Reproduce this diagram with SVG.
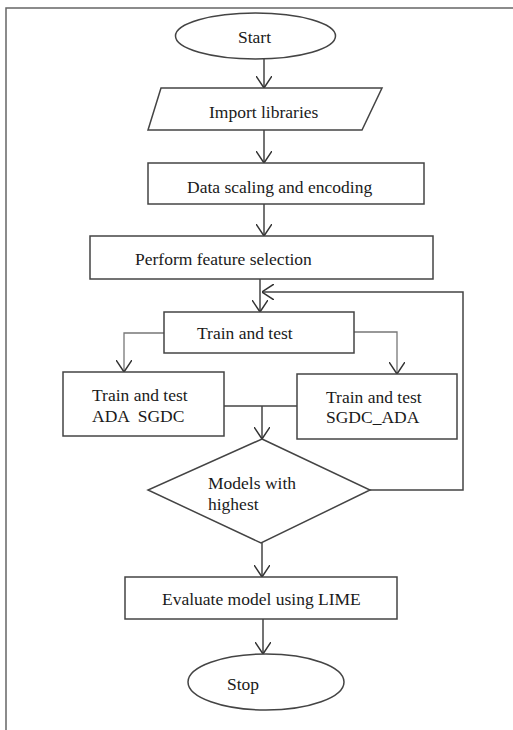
<svg xmlns="http://www.w3.org/2000/svg" width="513" height="730" viewBox="0 0 513 730">
<defs>
<marker id="arr" viewBox="0 0 12 16" refX="12" refY="8" markerWidth="12" markerHeight="16" markerUnits="userSpaceOnUse" orient="auto">
<path d="M0,0 L12,8 L0,16" fill="none" stroke="#333" stroke-width="1.5"/>
</marker>
</defs>
<style>
.shape{fill:#fff;stroke:#444;stroke-width:1.5}
.lbl{font-family:"Liberation Serif","Times New Roman",serif;font-size:17.5px;fill:#1a1a1a}
.conn{fill:none;stroke:#444;stroke-width:1.5}
.thin{fill:none;stroke:#777;stroke-width:1.3}
.frame{fill:none;stroke:#666;stroke-width:1.5}
</style>
<rect width="513" height="730" fill="#fff"/>
<path class="frame" d="M6,730 L6,8 L513,8"/>
<g id="connectors">
<line class="conn" x1="264" y1="59" x2="264" y2="88" marker-end="url(#arr)"/>
<line class="conn" x1="264" y1="130" x2="264" y2="163" marker-end="url(#arr)"/>
<line class="conn" x1="264" y1="204" x2="264" y2="236" marker-end="url(#arr)"/>
<line class="conn" x1="260" y1="279" x2="260" y2="312" marker-end="url(#arr)"/>
<path class="conn" d="M370,490 L463,490 L463,292 L262,292" marker-end="url(#arr)"/>
<path class="thin" d="M164,333 L124,333 L124,372" marker-end="url(#arr)"/>
<path class="thin" d="M354,332 L397,332 L397,374" marker-end="url(#arr)"/>
<line class="conn" x1="224" y1="406" x2="297" y2="406"/>
<line class="conn" x1="262" y1="406" x2="262" y2="439" marker-end="url(#arr)"/>
<line class="conn" x1="262" y1="543" x2="262" y2="577" marker-end="url(#arr)"/>
<line class="conn" x1="263" y1="619" x2="263" y2="654" marker-end="url(#arr)"/>
</g>
<g id="start">
<ellipse class="shape" cx="255.5" cy="36" rx="80" ry="23"/>
<text class="lbl" x="238" y="43">Start</text>
</g>
<g id="import">
<polygon class="shape" points="161,88 382,88 362,130 148,130"/>
<text class="lbl" x="209" y="118">Import libraries</text>
</g>
<g id="scaling">
<rect class="shape" x="148" y="163" width="276" height="41"/>
<text class="lbl" x="187" y="193">Data scaling and encoding</text>
</g>
<g id="feature">
<rect class="shape" x="90" y="236" width="343" height="43"/>
<text class="lbl" x="135" y="265">Perform feature selection</text>
</g>
<g id="train">
<rect class="shape" x="164" y="312" width="190" height="41"/>
<text class="lbl" x="197" y="339">Train and test</text>
</g>
<g id="ada_sgdc">
<rect class="shape" x="63" y="372" width="161" height="64"/>
<text class="lbl" x="92" y="401">Train and test</text>
<text class="lbl" x="92" y="422" xml:space="preserve">ADA  SGDC</text>
</g>
<g id="sgdc_ada">
<rect class="shape" x="297" y="374" width="160" height="65"/>
<text class="lbl" x="326" y="403">Train and test</text>
<text class="lbl" x="326" y="423">SGDC_ADA</text>
</g>
<g id="decision">
<polygon class="shape" points="262,439 370,490 261,543 148,490"/>
<text class="lbl" x="208" y="489">Models with</text>
<text class="lbl" x="208" y="510">highest</text>
</g>
<g id="evaluate">
<rect class="shape" x="125" y="577" width="272" height="42"/>
<text class="lbl" x="162" y="605">Evaluate model using LIME</text>
</g>
<g id="stop">
<ellipse class="shape" cx="266" cy="682" rx="78" ry="28"/>
<text class="lbl" x="227" y="690">Stop</text>
</g>
</svg>
